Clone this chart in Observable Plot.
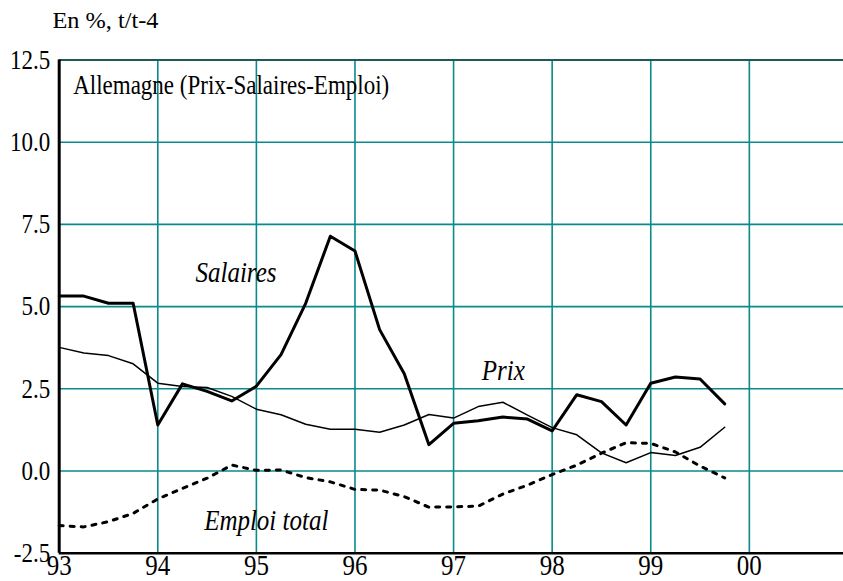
<!DOCTYPE html>
<html>
<head>
<meta charset="utf-8">
<script src="https://cdn.jsdelivr.net/npm/d3@7"></script>
<script src="https://cdn.jsdelivr.net/npm/@observablehq/plot@0.6"></script>
<style>
  html, body { margin: 0; padding: 0; background: #fff; }
  svg { display: block; }
  svg text { font-family: "Liberation Serif", "Times New Roman", serif; }
</style>
</head>
<body>
<script>
// Quarterly periods (year + quarter fraction)
const periods = [93.00, 93.25, 93.50, 93.75, 94.00, 94.25, 94.50, 94.75,
                 95.00, 95.25, 95.50, 95.75, 96.00, 96.25, 96.50, 96.75,
                 97.00, 97.25, 97.50, 97.75, 98.00, 98.25, 98.50, 98.75,
                 99.00, 99.25, 99.50, 99.75];
const salaires = [5.32, 5.32, 5.10, 5.10, 1.40, 2.65, 2.42, 2.13,
                  2.58, 3.54, 5.10, 7.14, 6.69, 4.30, 2.96, 0.80,
                  1.45, 1.53, 1.64, 1.58, 1.22, 2.32, 2.11, 1.40,
                  2.67, 2.86, 2.80, 2.04];
const prix = [3.76, 3.59, 3.51, 3.26, 2.67, 2.57, 2.54, 2.27,
              1.88, 1.71, 1.42, 1.27, 1.27, 1.18, 1.40, 1.72,
              1.61, 1.96, 2.09, 1.70, 1.32, 1.10, 0.55, 0.25,
              0.56, 0.47, 0.72, 1.33];
const emploi = [-1.66, -1.70, -1.54, -1.29, -0.85, -0.53, -0.22, 0.18,
                0.02, 0.03, -0.20, -0.33, -0.56, -0.58, -0.78, -1.10,
                -1.09, -1.07, -0.70, -0.43, -0.11, 0.18, 0.54, 0.86,
                0.84, 0.58, 0.15, -0.21];
const xTicks = [93, 94, 95, 96, 97, 98, 99, 100];
const xTickLabels = ["93", "94", "95", "96", "97", "98", "99", "00"];
const yTicks = [-2.5, 0, 2.5, 5, 7.5, 10, 12.5];
const yTickLabels = ["-2.5", "0.0", "2.5", "5.0", "7.5", "10.0", "12.5"];
const seriesNames = ["Salaires", "Prix", "Emploi total"];
const chartTitle = "Allemagne (Prix-Salaires-Emploi)";
const unitLabel = "En %, t/t-4";

const rows = periods.map((t, i) => ({t, salaires: salaires[i], prix: prix[i], emploi: emploi[i]}));

const FONT = "Liberation Serif";
const TEAL = "#0a8a8a";

const svg = Plot.plot({
  width: 843,
  height: 581,
  marginLeft: 58.7,
  marginRight: 0,
  marginTop: 59.5,
  marginBottom: 28.3,
  x: {type: "linear", domain: [93, 100.955]},
  y: {domain: [-2.5, 12.5]},
  marks: [
    Plot.ruleX(xTicks.slice(1), {stroke: TEAL, strokeWidth: 1.6}),
    Plot.ruleY(yTicks.slice(1, -1), {stroke: TEAL, strokeWidth: 1.6}),
    Plot.ruleY([12.5], {stroke: "#1d5a5a", strokeWidth: 2.2}),
    Plot.lineY(rows, {x: "t", y: "emploi", stroke: "#000", strokeWidth: 3, strokeDasharray: "4,7"}),
    Plot.lineY(rows, {x: "t", y: "prix", stroke: "#000", strokeWidth: 1.5}),
    Plot.lineY(rows, {x: "t", y: "salaires", stroke: "#000", strokeWidth: 3}),
    Plot.ruleX([93], {stroke: "#000", strokeWidth: 3}),
    Plot.ruleY([-2.5], {stroke: "#000", strokeWidth: 2.6, x1: 93, x2: 100.955}),
    Plot.axisX(xTicks, {tickSize: 0, tickPadding: 3, fontSize: 25, fontFamily: FONT, label: null, fill: "#000",
      tickFormat: (d) => xTickLabels[xTicks.indexOf(d)]}),
    Plot.axisY(yTicks, {tickSize: 0, tickPadding: 9, fontSize: 23, fontFamily: FONT, label: null, fill: "#000",
      tickFormat: (d) => yTickLabels[yTicks.indexOf(d)]}),
    Plot.text([chartTitle], {frameAnchor: "top-left", dx: 14, dy: 25, fontSize: 23, fontFamily: FONT, textAnchor: "start", lineAnchor: "middle"}),
    Plot.text([unitLabel], {frameAnchor: "top-left", dx: -6.7, dy: -40, fontSize: 20, fontFamily: FONT, textAnchor: "start", lineAnchor: "middle"}),
    Plot.text([seriesNames[0]], {x: [94.793], y: [6.05], fontSize: 25, fontFamily: FONT, fontStyle: "italic", textAnchor: "middle", lineAnchor: "middle"}),
    Plot.text([seriesNames[1]], {x: [97.504], y: [3.06], fontSize: 25, fontFamily: FONT, fontStyle: "italic", textAnchor: "middle", lineAnchor: "middle"}),
    Plot.text([seriesNames[2]], {x: [95.10], y: [-1.49], fontSize: 25, fontFamily: FONT, fontStyle: "italic", textAnchor: "middle", lineAnchor: "middle"})
  ]
});
document.body.append(svg);

// Reproduce the tall, narrow lettering of the reference
const STRETCH = 1.18;
svg.querySelectorAll("text").forEach(t => {
  if (t.textContent === unitLabel) {
    t.setAttribute("textLength", 106);
    t.setAttribute("lengthAdjust", "spacingAndGlyphs");
  }
  const b = t.getBBox();
  const cy = b.y + b.height / 2;
  const old = t.getAttribute("transform") || "";
  t.setAttribute("transform", `${old} translate(0,${cy}) scale(1,${STRETCH}) translate(0,${-cy})`);
});
</script>
</body>
</html>
